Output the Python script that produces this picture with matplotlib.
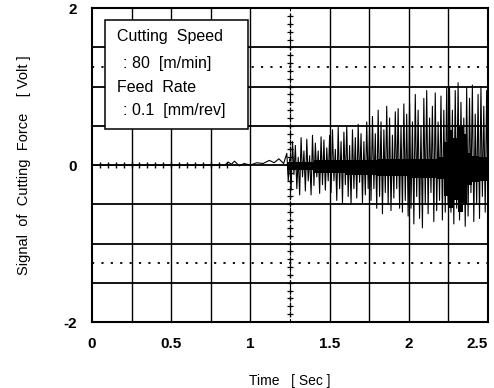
import numpy as np
import matplotlib
matplotlib.use("Agg")
from matplotlib import pyplot as plt
from matplotlib.patches import Rectangle

plt.rcParams['font.family'] = ['Liberation Sans', 'DejaVu Sans']
plt.rcParams['axes.unicode_minus'] = False

# quiet part of the signal (before chatter starts)
quiet_t = [0.0, 0.84, 0.86, 0.88, 0.90, 0.93, 0.96, 1.00, 1.04, 1.08, 1.12, 1.15, 1.18, 1.21]
quiet_v = [0.0, 0.0, 0.04, 0.01, 0.05, -0.01, 0.02, 0.0, 0.03, 0.02, 0.06, 0.03, 0.08, 0.02]

# chatter part: alternating peak / trough values
peaks1 = [0.15, 0.08, 0.30, 0.25, 0.10, 0.35, 0.18, 0.33, 0.12, 0.38, 0.28, 0.18, 0.36, 0.32, 0.22]
troughs1 = [-0.20, -0.32, -0.12, -0.30, -0.38, -0.15, -0.33, -0.20, -0.38, -0.26, -0.15, -0.36, -0.25, -0.32, -0.20]
peaks2 = [0.38, 0.45, 0.20, 0.48, 0.30, 0.42, 0.50, 0.25, 0.45, 0.35, 0.52, 0.40, 0.30, 0.55]
troughs2 = [-0.35, -0.20, -0.45, -0.30, -0.48, -0.25, -0.40, -0.50, -0.30, -0.42, -0.22, -0.48, -0.38, -0.30]
peaks3 = [0.50, 0.62, 0.40, 0.70, 0.55, 0.45, 0.75, 0.60, 0.38, 0.68, 0.72, 0.50, 0.78, 0.65]
troughs3 = [-0.45, -0.30, -0.55, -0.40, -0.62, -0.35, -0.50, -0.58, -0.42, -0.30, -0.55, -0.60, -0.45, -0.65]
peaks4 = [0.80, 0.55, 0.90, 0.70, 0.50, 0.85, 0.95, 0.60, 0.75, 0.92, 0.55, 0.88, 0.70, 0.98]
troughs4 = [-0.55, -0.75, -0.40, -0.68, -0.80, -0.50, -0.62, -0.35, -0.72, -0.58, -0.45, -0.70, -0.60, -0.50]
peaks5 = [1.00, 0.70, 0.95, 1.05, 0.80, 0.60, 0.98, 0.85, 1.02, 0.65, 0.90, 1.00, 0.75, 0.95]
troughs5 = [-0.60, -0.75, -0.55, -0.70, -0.45, -0.78, -0.65, -0.35, -0.72, -0.50, -0.68, -0.40, -0.60, -0.55]
chatter_start = 1.23
chatter_end = 2.5

# dense black core of the chatter trace (blocky, as in the scan)
band_t = [1.23, 1.40, 1.60, 1.80, 2.00, 2.10, 2.18, 2.22, 2.25, 2.28, 2.31, 2.34, 2.37, 2.40, 2.44, 2.50]
band_hi = [0.04, 0.06, 0.06, 0.08, 0.08, 0.08, 0.10, 0.30, 0.45, 0.35, 0.50, 0.40, 0.15, 0.12, 0.10, 0.10]
band_lo = [-0.06, -0.10, -0.12, -0.14, -0.16, -0.16, -0.18, -0.40, -0.55, -0.45, -0.60, -0.50, -0.25, -0.22, -0.20, -0.18]

xticks = [0, 0.5, 1, 1.5, 2, 2.5]
xticklabels = ['0', '0.5', '1', '1.5', '2', '2.5']
yticks = [-2, 0, 2]

peaks = peaks1 + peaks2 + peaks3 + peaks4 + peaks5
troughs = troughs1 + troughs2 + troughs3 + troughs4 + troughs5
chatter_v = np.ravel(np.column_stack([peaks, troughs]))
chatter_t = np.linspace(chatter_start, chatter_end, len(chatter_v))
t = np.concatenate([quiet_t, chatter_t])
v = np.concatenate([quiet_v, chatter_v])

fig = plt.figure(figsize=(4.94, 3.88), dpi=100)
ax = fig.add_axes([0.186, 0.170, 0.802, 0.809])
ax.set_xlim(0, 2.5)
ax.set_ylim(-2, 2)

# grid
for gx in np.arange(0.25, 2.5, 0.25):
    if abs(gx - 1.25) < 1e-6:
        continue
    ax.axvline(gx, color='black', lw=1.0, zorder=1)
for gy in np.arange(-1.5, 2.0, 0.5):
    ax.axhline(gy, color='black', lw=1.3, zorder=1)
for gy in (-1.25, 1.25):
    ax.axhline(gy, color='black', lw=1.3, ls=(0, (1.2, 4)), zorder=1)

# centre axes with small crosses
ax.axvline(1.25, color='black', lw=0.8, ls=(0, (3, 2)), zorder=1)
ax.plot(np.full(39, 1.25), np.arange(-1.9, 2.0, 0.1), '+', color='black', ms=5, mew=0.9, zorder=2)
ax.plot(np.arange(0.05, 0.9, 0.05), np.zeros(17), '|', color='black', ms=4, mew=1.0, zorder=2)

# signal
ax.fill_between(band_t, band_lo, band_hi, step='post', color='black', lw=0, zorder=3)
ax.plot(t, v, color='black', lw=0.8, zorder=3)

# condition box
ax.add_patch(Rectangle((0.082, 0.46), 0.905, 1.39, facecolor='white',
                       edgecolor='black', lw=1.1, zorder=4))
box_kw = dict(fontsize=11.5, va='center', zorder=5)
ax.text(0.158, 1.64, 'Cutting  Speed', **box_kw)
ax.text(0.196, 1.30, ': 80  [m/min]', **box_kw)
ax.text(0.158, 0.99, 'Feed  Rate', **box_kw)
ax.text(0.196, 0.70, ': 0.1  [mm/rev]', **box_kw)

for s in ax.spines.values():
    s.set_linewidth(1.5)
ax.set_xticks(xticks)
ax.set_xticklabels(xticklabels)
ax.set_yticks(yticks)
ax.tick_params(length=0, labelsize=11, pad=11)
for lab in ax.get_xticklabels() + ax.get_yticklabels():
    lab.set_fontweight('bold')
ax.get_xticklabels()[-1].set_horizontalalignment('right')
ax.set_xlabel('Time   [ Sec ]', fontsize=10, labelpad=16)
ax.set_ylabel('Signal  of  Cutting  Force    [ Volt ]', fontsize=10.5, labelpad=23)

fig.savefig('out.png', dpi=100)
